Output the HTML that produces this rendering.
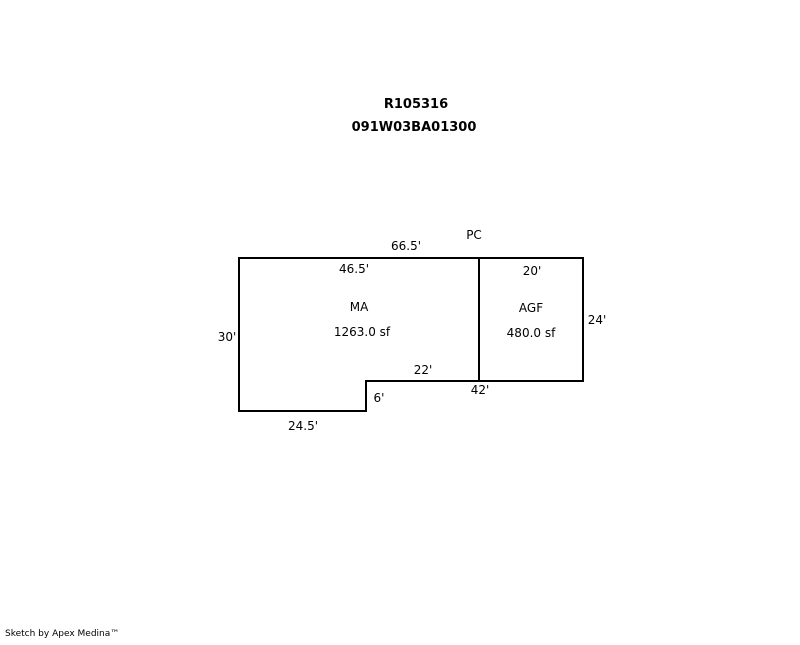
<!DOCTYPE html>
<html><head><style>
body{margin:0;background:#fff;}
svg text{font-family:"DejaVu Sans","Liberation Sans",sans-serif;font-size:12px;fill:#000;}
</style></head><body>
<svg width="800" height="640" xmlns="http://www.w3.org/2000/svg">
<text x="416" y="108" text-anchor="middle" font-weight="bold" style="font-size:13px">R105316</text>
<text x="414" y="131" text-anchor="middle" font-weight="bold" style="font-size:13px">091W03BA01300</text>
<path d="M239 258 H583 V381 H366 V411 H239 Z M479 258 V381" fill="none" stroke="#000" stroke-width="2"/>
<text x="474" y="239" text-anchor="middle">PC</text>
<text x="406" y="250" text-anchor="middle">66.5'</text>
<text x="354" y="273" text-anchor="middle">46.5'</text>
<text x="532" y="275" text-anchor="middle">20'</text>
<text x="359" y="311" text-anchor="middle">MA</text>
<text x="362" y="336" text-anchor="middle">1263.0 sf</text>
<text x="531" y="312" text-anchor="middle">AGF</text>
<text x="531" y="337" text-anchor="middle">480.0 sf</text>
<text x="227" y="341" text-anchor="middle">30'</text>
<text x="597" y="324" text-anchor="middle">24'</text>
<text x="423" y="374" text-anchor="middle">22'</text>
<text x="480" y="394" text-anchor="middle">42'</text>
<text x="379" y="402" text-anchor="middle">6'</text>
<text x="303" y="430" text-anchor="middle">24.5'</text>
<text x="5" y="636" style="font-size:9px">Sketch by Apex Medina™</text>
</svg>
</body></html>
